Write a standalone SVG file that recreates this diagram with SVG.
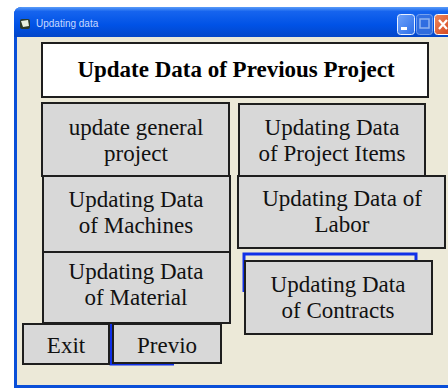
<svg xmlns="http://www.w3.org/2000/svg" width="448" height="388" viewBox="0 0 448 388">
  <defs>
    <linearGradient id="titleGrad" x1="0" y1="0" x2="0" y2="1">
      <stop offset="0" stop-color="#5A9CF8"/>
      <stop offset="0.15" stop-color="#1664EE"/>
      <stop offset="0.6" stop-color="#0052E6"/>
      <stop offset="1" stop-color="#0346C8"/>
    </linearGradient>
    <linearGradient id="minGrad" x1="0" y1="0" x2="1" y2="1">
      <stop offset="0" stop-color="#6FA3FA"/>
      <stop offset="1" stop-color="#2B6DE8"/>
    </linearGradient>
    <linearGradient id="closeGrad" x1="0" y1="0" x2="1" y2="1">
      <stop offset="0" stop-color="#F08A5E"/>
      <stop offset="1" stop-color="#D2411A"/>
    </linearGradient>
    <style>
      .btn { fill: #D8D8D8; stroke: #1E1E1E; stroke-width: 2; }
      .lbl { font-size: 23px; fill: #111; text-anchor: middle; }
      .focus { fill: none; stroke: #1030E8; stroke-width: 3; }
    </style>
  </defs>

  <!-- page -->
  <rect x="0" y="0" width="448" height="388" fill="#FFFFFF"/>

  <!-- window frame -->
  <g id="window">
    <path d="M14 15 Q14 7 22 7 L448 7 L448 388 L14 388 Z" fill="#0A4FD8"/>
    <path d="M14 15 Q14 7 22 7 L448 7 L448 37 L14 37 Z" fill="url(#titleGrad)"/>
    <rect x="17" y="37" width="431" height="348" fill="#ECE9D8"/>
    <!-- window icon -->
    <g id="icon">
      <rect x="20" y="19" width="10" height="10" rx="2" fill="#2A3A2A"/>
      <path d="M21 21 L28 20 L29 26 L23 27 Z" fill="#E8F0E0"/>
    </g>
    <text x="36" y="27" font-family="Liberation Sans, Arial, sans-serif" font-size="10" fill="#C8DAFF">Updating data</text>
    <!-- caption buttons -->
    <g id="caption-buttons">
      <rect x="397.5" y="14.5" width="17" height="20" rx="3" fill="url(#minGrad)" stroke="#E8F0FF" stroke-width="1"/>
      <rect x="401" y="27" width="6" height="3" fill="#FFFFFF"/>
      <rect x="416.5" y="14.5" width="16" height="20" rx="3" fill="#3B74E0" stroke="#8FB2F0" stroke-width="1" opacity="0.8"/>
      <rect x="420" y="19" width="9" height="9" fill="none" stroke="#8FB2F0" stroke-width="1.5"/>
      <rect x="434.5" y="14.5" width="17" height="20" rx="3" fill="url(#closeGrad)" stroke="#FFFFFF" stroke-width="1"/>
      <path d="M439 20 L447 29 M447 20 L439 29" stroke="#FFFFFF" stroke-width="2.2"/>
    </g>
  </g>

  <g font-family="Liberation Serif, Times New Roman, serif">
    <!-- heading -->
    <g id="heading">
      <rect x="42" y="43" width="386" height="54" fill="#FFFFFF" stroke="#1E1E1E" stroke-width="2"/>
      <text x="236" y="77" font-size="23" font-weight="bold" fill="#000" text-anchor="middle">Update Data of Previous Project</text>
    </g>

    <!-- focus outlines behind buttons -->
    <g id="connectors">
      <path class="focus" d="M244 292 L244 254 L416 254 L416 262"/>
      <path class="focus" d="M111 323 L111 364 L174 364"/>
    </g>

    <g id="general">
      <rect class="btn" x="42" y="103" width="187" height="73"/>
      <text class="lbl" x="136" y="135">update general</text>
      <text class="lbl" x="136" y="161">project</text>
    </g>

    <g id="items">
      <rect class="btn" x="239" y="104" width="186" height="72"/>
      <text class="lbl" x="332" y="135">Updating Data</text>
      <text class="lbl" x="332" y="161">of Project Items</text>
    </g>

    <g id="machines">
      <rect class="btn" x="43" y="176" width="187" height="76"/>
      <text class="lbl" x="136" y="207">Updating Data</text>
      <text class="lbl" x="136" y="233">of Machines</text>
    </g>

    <g id="labor">
      <rect class="btn" x="238" y="176" width="207" height="72"/>
      <text class="lbl" x="342" y="206">Updating Data of</text>
      <text class="lbl" x="342" y="232">Labor</text>
    </g>

    <g id="material">
      <rect class="btn" x="43" y="252" width="187" height="71"/>
      <text class="lbl" x="136" y="279">Updating Data</text>
      <text class="lbl" x="136" y="305">of Material</text>
    </g>

    <g id="contracts">
      <rect class="btn" x="245" y="261" width="187" height="73"/>
      <text class="lbl" x="338" y="292">Updating Data</text>
      <text class="lbl" x="338" y="318">of Contracts</text>
    </g>

    <g id="exit">
      <rect class="btn" x="23" y="324" width="86" height="40"/>
      <text class="lbl" x="66" y="353">Exit</text>
    </g>

    <g id="previo">
      <rect class="btn" x="113" y="324" width="108" height="39"/>
      <text class="lbl" x="167" y="353">Previo</text>
    </g>
  </g>
</svg>
